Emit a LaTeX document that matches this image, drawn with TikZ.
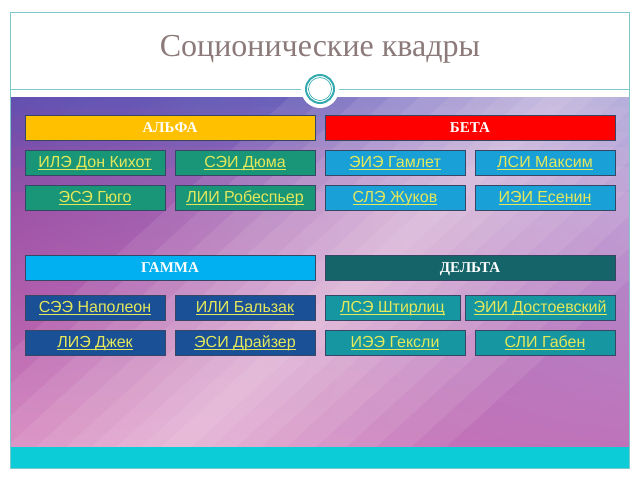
\documentclass[tikz,border=0pt]{standalone}
\usepackage{fontspec}
\setmainfont{Liberation Serif}
\setsansfont{Liberation Sans}
\usetikzlibrary{positioning}
\usetikzlibrary{shadings}
\usetikzlibrary{calc}
\definecolor{frameteal}{RGB}{125,200,205}
\definecolor{ringteal}{RGB}{50,170,175}
\definecolor{bartteal}{RGB}{12,205,215}
\definecolor{titlegray}{RGB}{140,122,122}
\definecolor{boxline}{RGB}{55,70,100}
\definecolor{linkyellow}{RGB}{228,232,90}
\definecolor{alfahead}{RGB}{255,192,0}
\definecolor{betahead}{RGB}{255,0,0}
\definecolor{gammahead}{RGB}{0,176,240}
\definecolor{deltahead}{RGB}{20,100,105}
\definecolor{alfabox}{RGB}{25,150,120}
\definecolor{betabox}{RGB}{25,160,215}
\definecolor{gammabox}{RGB}{25,80,150}
\definecolor{deltabox}{RGB}{22,150,160}
\definecolor{bgUL}{RGB}{135,70,160}
\definecolor{bgUR}{RGB}{170,150,215}
\definecolor{bgLL}{RGB}{205,110,180}
\definecolor{bgLR}{RGB}{190,115,185}
\definecolor{bgblue}{RGB}{70,95,195}
\definecolor{bglight}{RGB}{255,236,242}
\tikzset{
    frameline/.style = {draw=frameteal, line width=0.8pt},
    quadra/.style = {rectangle, draw=boxline, line width=0.8pt, minimum width=290pt, minimum height=25pt, inner sep=0pt, text height=10.5pt, text depth=1pt, text=white, font=\fontsize{15}{17}\selectfont\bfseries},
    sociotype/.style = {rectangle, draw=boxline, line width=0.8pt, minimum width=140pt, minimum height=25pt, inner sep=0pt, text height=12pt, text depth=3pt, text=linkyellow, font=\sffamily\fontsize{16}{18}\selectfont},
    typea/.style = {sociotype, fill=alfabox},
    typeb/.style = {sociotype, fill=betabox},
    typeg/.style = {sociotype, fill=gammabox},
    typed/.style = {sociotype, fill=deltabox},
}
\newcommand{\lnk}[1]{\setbox0=\hbox{#1}\rlap{\rule[-2.6pt]{\wd0}{0.9pt}}\box0}

\begin{document}
\begin{tikzpicture}[x=1pt,y=-1pt]
\useasboundingbox (0,0) rectangle (640,480);
\fill[white] (0,0) rectangle (640,480);
% background of the slide
\shade[upper left=bgUL, upper right=bgUR, lower left=bgLL, lower right=bgLR] (10,97) rectangle (629,447);
\begin{scope}
\clip (10,97) rectangle (629,447);
\foreach \h in {10,20,35,50,70,95}
  \fill[bgblue, opacity=0.11] (10,97) rectangle (629,97+\h);
\foreach \w in {15,35,60,85,110,140,170,200,235,270}
  \fill[bglight, opacity=0.095] ($(600,60)+(\w,0)$) -- ($(140,480)+(\w,0)$) -- ($(140,480)-(\w,0)$) -- ($(600,60)-(\w,0)$) -- cycle;
\end{scope}
\fill[bartteal] (10,447) rectangle (629,468);
\draw[frameline] (10,12) rectangle (629,468);
\draw[frameline] (10,89) -- (629,89);
% title
\node[text=titlegray, font=\fontsize{32}{36}\selectfont] at (320,49) (title) {Соционические квадры};
\node[circle, fill=white, minimum size=38pt, inner sep=0pt] at (320,89) (disc) {};
\draw[ringteal, line width=2pt] (disc.center) circle (14pt);
\draw[ringteal, line width=0.6pt] (disc.center) circle (11.5pt);
%
\node[quadra, fill=alfahead] at (170,127.5) (alfa) {АЛЬФА};
\node[quadra, fill=betahead] at (470,127.5) (beta) {БЕТА};
\node[quadra, fill=gammahead] at (170,267.5) (gamma) {ГАММА};
\node[quadra, fill=deltahead] at (470,267.5) (delta) {ДЕЛЬТА};
%
\node[typea] at (95,162.5) (ile) {\lnk{ИЛЭ Дон Кихот}};
\node[typea] at (245,162.5) (sei) {\lnk{СЭИ Дюма}};
\node[typea] at (95,197.5) (ese) {\lnk{ЭСЭ Гюго}};
\node[typea] at (245,197.5) (lii) {\lnk{ЛИИ Робеспьер}};
%
\node[typeb] at (395,162.5) (eie) {\lnk{ЭИЭ Гамлет}};
\node[typeb] at (545,162.5) (lsi) {\lnk{ЛСИ Максим}};
\node[typeb] at (395,197.5) (sle) {\lnk{СЛЭ Жуков}};
\node[typeb] at (545,197.5) (iei) {\lnk{ИЭИ Есенин}};
%
\node[typeg] at (95,307.5) (see) {\lnk{СЭЭ Наполеон}};
\node[typeg] at (245,307.5) (ili) {\lnk{ИЛИ Бальзак}};
\node[typeg] at (95,342.5) (lie) {\lnk{ЛИЭ Джек}};
\node[typeg] at (245,342.5) (esi) {\lnk{ЭСИ Драйзер}};
%
\node[typed, minimum width=135pt] at (392.5,307.5) (lse) {\lnk{ЛСЭ Штирлиц}};
\node[typed, minimum width=150pt] at (540,307.5) (eii) {\lnk{ЭИИ Достоевский}};
\node[typed] at (395,342.5) (iee) {\lnk{ИЭЭ Гексли}};
\node[typed] at (545,342.5) (sli) {\lnk{СЛИ Габен}};
\end{tikzpicture}
\end{document}
